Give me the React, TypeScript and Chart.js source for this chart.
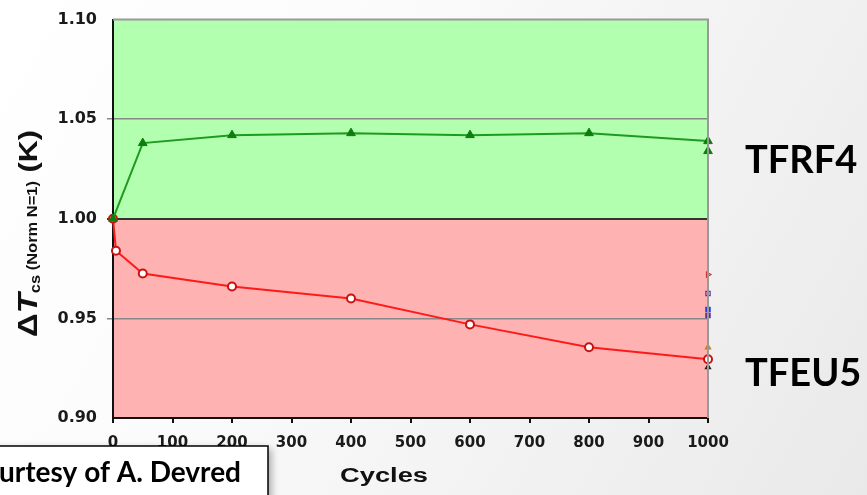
import React, { useEffect, useRef } from "react";
import { Chart, registerables } from "chart.js";

Chart.register(...registerables);

// ---- data ----
const tfrf4Cycles = [0, 50, 200, 400, 600, 800, 1000];
const tfrf4Values = [1.0, 1.038, 1.042, 1.043, 1.042, 1.043, 1.039];
const tfrf4ExtraCycles = [1000];
const tfrf4ExtraValues = [1.034];

const tfeu5Cycles = [0, 5, 50, 200, 400, 600, 800, 1000];
const tfeu5Values = [1.0, 0.984, 0.9725, 0.966, 0.96, 0.947, 0.9355, 0.9295];

const otherCycles = [1000, 1000, 1000, 1000, 1000, 1000];
const otherValues = [0.972, 0.9625, 0.9545, 0.9515, 0.9355, 0.9255];
const otherColors = ["#d03030", "#6030a0", "#2040e0", "#6030a0", "#c08020", "#202020"];

const xTicks = [0, 100, 200, 300, 400, 500, 600, 700, 800, 900, 1000];
const yTicks = [0.9, 0.95, 1.0, 1.05, 1.1];

const xTitle = "Cycles";
const seriesLabels = ["TFRF4", "TFEU5"];
const courtesy = "Courtesy of A. Devred";

const pts = (xs: number[], ys: number[]) => xs.map((x, i) => ({ x, y: ys[i] }));

const bgPlugin = {
  id: "bgZones",
  beforeDraw(chart: any) {
    const { ctx, chartArea, scales } = chart;
    const W = chart.width;
    const H = chart.height;
    ctx.save();
    const g = ctx.createLinearGradient(0, 0, W, H);
    g.addColorStop(0, "#ffffff");
    g.addColorStop(0.35, "#fbfbfb");
    g.addColorStop(1, "#e9e9e9");
    ctx.fillStyle = g;
    ctx.fillRect(0, 0, W, H);
    const y = scales.y;
    const yTop = y.getPixelForValue(1.1);
    const yMid = y.getPixelForValue(1.0);
    const yBot = y.getPixelForValue(0.9);
    ctx.fillStyle = "#b3ffb0";
    ctx.fillRect(chartArea.left, yTop, chartArea.right - chartArea.left, yMid - yTop);
    ctx.fillStyle = "#ffb2b2";
    ctx.fillRect(chartArea.left, yMid, chartArea.right - chartArea.left, yBot - yMid);
    ctx.restore();
  },
  afterDraw(chart: any) {
    const { ctx, chartArea } = chart;
    ctx.save();
    // top & right frame
    ctx.strokeStyle = "#999999";
    ctx.lineWidth = 2;
    ctx.beginPath();
    ctx.moveTo(chartArea.left, chartArea.top);
    ctx.lineTo(chartArea.right, chartArea.top);
    ctx.lineTo(chartArea.right, chartArea.bottom);
    ctx.stroke();
    ctx.restore();

    // y title (rotated), stretched to fit its length
    ctx.save();
    const parts: [string, string, number][] = [
      ["\u0394", "bold 28px 'Liberation Sans'", 0],
      ["T", "italic bold 28px 'Liberation Sans'", 0],
      ["cs", "bold 14px 'Liberation Sans'", 3],
      [" (Norm N=1)", "bold 14px 'Liberation Sans'", 0],
      [" (K)", "bold 26px 'Liberation Sans'", 0],
    ];
    let total = 0;
    for (const p of parts) {
      ctx.font = p[1];
      total += ctx.measureText(p[0]).width;
    }
    const targetLen = 207;
    ctx.translate(37, 337);
    ctx.rotate(-Math.PI / 2);
    ctx.scale(targetLen / total, 1);
    ctx.fillStyle = "#111";
    ctx.textBaseline = "alphabetic";
    ctx.textAlign = "left";
    let x = 0;
    for (const p of parts) {
      ctx.font = p[1];
      ctx.fillText(p[0], x, p[2]);
      x += ctx.measureText(p[0]).width;
    }
    ctx.restore();

    // x title
    ctx.save();
    ctx.fillStyle = "#111";
    ctx.font = "bold 20px 'Liberation Sans'";
    const tw = ctx.measureText(xTitle).width;
    ctx.translate(340, 482);
    ctx.scale(88 / tw, 1);
    ctx.textAlign = "left";
    ctx.fillText(xTitle, 0, 0);
    ctx.restore();

    // series labels
    ctx.save();
    ctx.fillStyle = "#000";
    ctx.font = "bold 38px Lato";
    ctx.textAlign = "left";
    ctx.fillText(seriesLabels[0], 745, 173);
    ctx.fillText(seriesLabels[1], 745, 386);
    ctx.restore();

    // courtesy box
    ctx.save();
    ctx.shadowColor = "rgba(0,0,0,0.35)";
    ctx.shadowBlur = 8;
    ctx.shadowOffsetX = 3;
    ctx.shadowOffsetY = 3;
    ctx.fillStyle = "#ffffff";
    ctx.fillRect(-10, 446, 278, 60);
    ctx.shadowColor = "transparent";
    ctx.strokeStyle = "#000";
    ctx.lineWidth = 1.5;
    ctx.strokeRect(-10, 446, 278, 60);
    ctx.fillStyle = "#000";
    ctx.font = "bold 28px Lato";
    ctx.textAlign = "right";
    ctx.fillText(courtesy, 241, 482);
    ctx.restore();
  },
};

export default function App() {
  const ref = useRef<HTMLCanvasElement | null>(null);
  useEffect(() => {
    if (!ref.current) return;
    const chart = new Chart(ref.current, {
      type: "scatter",
      data: {
        datasets: [
          {
            label: seriesLabels[0],
            data: pts(tfrf4Cycles, tfrf4Values),
            showLine: true,
            borderColor: "#1f9a1f",
            borderWidth: 2,
            pointStyle: "triangle",
            pointRadius: 5,
            pointBackgroundColor: "#0d7d0d",
            pointBorderColor: "#0d7d0d",
            pointBorderWidth: 1,
            clip: false,
          },
          {
            label: seriesLabels[0] + " b",
            data: pts(tfrf4ExtraCycles, tfrf4ExtraValues),
            showLine: false,
            pointStyle: "triangle",
            pointRadius: 5,
            pointBackgroundColor: "#0d7d0d",
            pointBorderColor: "#0d7d0d",
            clip: false,
          },
          {
            label: "others",
            data: pts(otherCycles, otherValues),
            showLine: false,
            pointStyle: ["triangle", "rect", "rect", "rect", "triangle", "triangle"],
            rotation: [90, 0, 0, 0, 0, 0],
            pointRadius: 3,
            pointBackgroundColor: otherColors.map((c, i) => (i === 0 || i === 1 ? "rgba(0,0,0,0)" : c)),
            pointBorderColor: otherColors,
            pointBorderWidth: 1.2,
            clip: false,
          },
          {
            label: seriesLabels[1],
            data: pts(tfeu5Cycles, tfeu5Values),
            showLine: true,
            borderColor: "#ff1a1a",
            borderWidth: 2,
            pointStyle: "circle",
            pointRadius: 4,
            pointBackgroundColor: "#ffffff",
            pointBorderColor: "#cc1010",
            pointBorderWidth: 2,
            clip: false,
          },
        ],
      },
      options: {
        animation: false,
        responsive: false,
        maintainAspectRatio: false,
        layout: { padding: { top: 19, right: 159, left: 0, bottom: 0 } },
        plugins: { legend: { display: false }, tooltip: { enabled: false } },
        scales: {
          x: {
            type: "linear",
            min: 0,
            max: 1000,
            afterBuildTicks: (s: any) => {
              s.ticks = xTicks.map((v) => ({ value: v }));
            },
            afterFit: (s: any) => {
              s.height = 77;
            },
            border: { color: "#111", width: 2 },
            grid: {
              drawOnChartArea: false,
              drawTicks: true,
              tickLength: 5,
              color: "#111",
              lineWidth: 2,
            },
            ticks: {
              color: "#1a1a1a",
              font: { family: "'DejaVu Sans'", weight: "bold", size: 15 },
              padding: 11,
              maxRotation: 0,
              autoSkip: false,
              callback: (v: any) => String(v),
            },
          },
          y: {
            type: "linear",
            min: 0.9,
            max: 1.1,
            afterBuildTicks: (s: any) => {
              s.ticks = yTicks.map((v) => ({ value: v }));
            },
            afterFit: (s: any) => {
              s.width = 113;
            },
            border: { color: "#111", width: 2 },
            grid: {
              drawTicks: true,
              tickLength: 6,
              color: (c: any) => {
                if (c.type !== "tick") return "#888";
                const v = c.tick.value;
                if (Math.abs(v - 1.0) < 1e-6) return "#333";
                if (Math.abs(v - 1.1) < 1e-6 || Math.abs(v - 0.9) < 1e-6) return "rgba(0,0,0,0)";
                return "#888";
              },
              lineWidth: (c: any) => (c.type === "tick" && Math.abs(c.tick.value - 1.0) < 1e-6 ? 2 : 1.5),
            },
            ticks: {
              color: "#1a1a1a",
              font: { family: "'DejaVu Sans'", weight: "bold", size: 16 },
              padding: 10,
              callback: (v: any) => Number(v).toFixed(2),
            },
          },
        },
      },
      plugins: [bgPlugin],
    } as any);
    return () => chart.destroy();
  }, []);
  return (
    <div style={{ width: 867, height: 495, position: "absolute", left: 0, top: 0 }}>
      <canvas ref={ref} width={867} height={495} style={{ display: "block" }} />
    </div>
  );
}
